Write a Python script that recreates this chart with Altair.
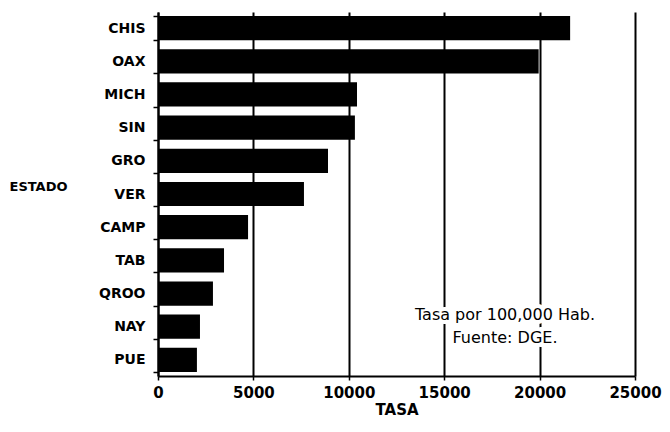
import altair as alt
import pandas as pd

estados = ["CHIS", "OAX", "MICH", "SIN", "GRO", "VER", "CAMP", "TAB", "QROO", "NAY", "PUE"]
tasas = [21600, 19950, 10430, 10320, 8910, 7650, 4720, 3460, 2880, 2200, 2040]
x_ticks = [0, 5000, 10000, 15000, 20000, 25000]
nota = ["Tasa por 100,000 Hab.", "Fuente: DGE."]

df = pd.DataFrame({"estado": estados, "tasa": tasas})
df_nota = pd.DataFrame({"texto": ["\n".join(nota)]})

FONT = "DejaVu Sans"

bars = alt.Chart(df).mark_bar(color="black").encode(
    y=alt.Y(
        "estado:N",
        sort=estados,
        scale=alt.Scale(paddingInner=0.27, paddingOuter=0.12),
        axis=alt.Axis(
            title="ESTADO",
            titleAngle=0,
            titleAlign="center",
            titleBaseline="middle",
            titleX=-120,
            titleY=174,
            titleFont=FONT,
            titleFontSize=13,
            titleFontWeight="bold",
            titleColor="black",
            labelFont=FONT,
            labelFontSize=14,
            labelFontWeight="bold",
            labelColor="black",
            labelPadding=8,
            tickBand="extent",
            tickSize=5,
            tickColor="black",
            tickWidth=1.5,
            domainColor="black",
            domainWidth=2,
            grid=False,
        ),
    ),
    x=alt.X(
        "tasa:Q",
        scale=alt.Scale(domain=[0, 25000], nice=False),
        axis=alt.Axis(
            title="TASA",
            values=x_ticks,
            format="d",
            labelFlush=False,
            titleFont=FONT,
            titleFontSize=15,
            titleFontWeight="bold",
            titleColor="black",
            titlePadding=2,
            labelFont=FONT,
            labelFontSize=15,
            labelFontWeight="bold",
            labelColor="black",
            labelPadding=5,
            tickSize=4,
            tickColor="black",
            tickWidth=1.5,
            domainColor="black",
            domainWidth=2,
            grid=True,
            gridColor="black",
            gridWidth=2,
            gridOpacity=1,
        ),
    ),
)

halo = alt.Chart(df_nota).mark_text(
    font=FONT, fontSize=16, lineBreak="\n", lineHeight=23, align="center",
    baseline="middle", stroke="white", strokeWidth=8, fill="white",
).encode(x=alt.value(347), y=alt.value(303), text="texto:N")

texto = alt.Chart(df_nota).mark_text(
    font=FONT, fontSize=16, lineBreak="\n", lineHeight=23, align="center",
    baseline="middle", color="black",
).encode(x=alt.value(347), y=alt.value(303), text="texto:N")

chart = alt.layer(bars, halo, texto).properties(
    width=477,
    height=364,
    autosize=alt.AutoSizeParams(type="none"),
    padding={"left": 150, "top": 4, "right": 27, "bottom": 48},
    background="white",
).configure_view(stroke=None)

chart.save("out.html", embed_options={"renderer": "svg", "actions": False})
